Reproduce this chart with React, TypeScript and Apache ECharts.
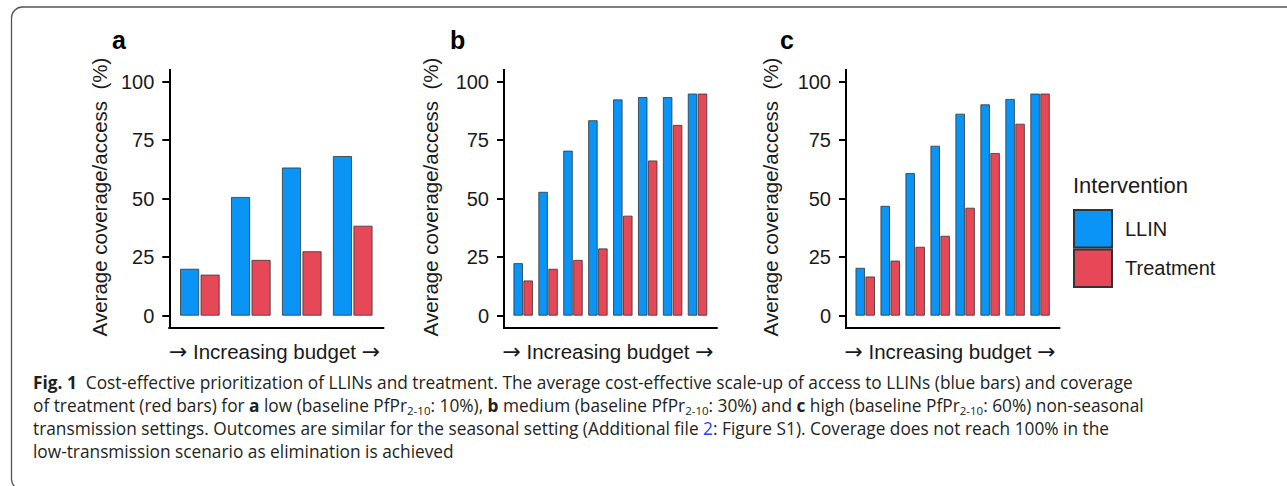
import React, { useEffect, useRef } from "react";
import * as echarts from "echarts";

const seriesNames = ["LLIN", "Treatment"];
const panelLabels = ["a", "b", "c"];
const llinA = [20, 50.7, 63.3, 68.2];
const treatA = [17.5, 23.8, 27.5, 38.4];
const llinB = [22.4, 52.9, 70.5, 83.5, 92.4, 93.4, 93.4, 94.9];
const treatB = [15, 20, 23.8, 28.7, 42.7, 66.3, 81.5, 94.9];
const llinC = [20.4, 46.9, 60.9, 72.6, 86.3, 90.3, 92.6, 94.9];
const treatC = [16.7, 23.5, 29.4, 34.1, 46.1, 69.5, 82.0, 94.9];
const yTicks = [0, 25, 50, 75, 100];
const yTitle = "Average coverage/access  (%)";
const xTitle = "{r|\u2192} Increasing budget {r|\u2192}";
const legendTitle = "Intervention";
const captionLines = [
  "{b|Fig. 1}  Cost-effective prioritization of LLINs and treatment. The average cost-effective scale-up of access to LLINs (blue bars) and coverage",
  "of treatment (red bars) for {b|a} low (baseline PfPr{s|2-10}: 10%), {b|b} medium (baseline PfPr{s|2-10}: 30%) and {b|c} high (baseline PfPr{s|2-10}: 60%) non-seasonal",
  "transmission settings. Outcomes are similar for the seasonal setting (Additional file {l|2}: Figure S1). Coverage does not reach 100% in the",
  "low-transmission scenario as elimination is achieved",
];

const COLORS = ["#0A94F6", "#E64858"];
const FONT = "Liberation Sans, Arial, sans-serif";
const CAP_FONT = "Open Sans, sans-serif";
const INK = "#1a1a1a";
const CAP_SIZE = 17.3;

const panels = [
  { llin: llinA, treat: treatA, left: 169.3, width: 214, pad: 0.6, barW: 19, gap: "8%", lab: [112, 40], yt: 99, xt: 274.5 },
  { llin: llinB, treat: treatB, left: 504, width: 212.7, pad: 0.77, barW: 9.4, gap: "6%", lab: [450, 40], yt: 430, xt: 608 },
  { llin: llinC, treat: treatC, left: 846, width: 213.3, pad: 0.77, barW: 9.4, gap: "6%", lab: [780, 40], yt: 770, xt: 950 },
];

export default function App() {
  const ref = useRef<HTMLDivElement>(null);
  useEffect(() => {
    if (!ref.current) return;
    const chart = echarts.init(ref.current, null, { renderer: "svg" });
    const grid: any[] = [];
    const xAxis: any[] = [];
    const yAxis: any[] = [];
    const series: any[] = [];
    const graphic: any[] = [];
    panels.forEach((p, i) => {
      grid.push({ left: p.left, top: 70, width: p.width, height: 257.3 });
      xAxis.push({
        type: "value",
        gridIndex: i,
        min: -p.pad,
        max: p.llin.length - 1 + p.pad,
        axisLine: { show: true, onZero: false, lineStyle: { color: "#000", width: 2, cap: "square" } },
        axisTick: { show: false },
        axisLabel: { show: false },
        splitLine: { show: false },
      });
      yAxis.push({
        type: "value",
        gridIndex: i,
        min: -5,
        max: 105,
        axisLine: { show: true, onZero: false, lineStyle: { color: "#000", width: 2, cap: "square" } },
        axisTick: { show: true, length: 7, lineStyle: { color: "#000", width: 2 }, customValues: yTicks },
        axisLabel: { show: true, margin: 15, fontSize: 20, color: INK, fontFamily: FONT, customValues: yTicks },
        splitLine: { show: false },
      });
      [p.llin, p.treat].forEach((vals, k) => {
        series.push({
          type: "bar",
          name: seriesNames[k],
          xAxisIndex: i,
          yAxisIndex: i,
          barWidth: p.barW,
          barGap: p.gap,
          data: vals.map((v, j) => [j, v]),
          itemStyle: { color: COLORS[k], borderColor: "#333", borderWidth: 0.8 },
        });
      });
      graphic.push({
        type: "text",
        x: p.lab[0],
        y: p.lab[1],
        style: { text: panelLabels[i], font: `bold 25px ${FONT}`, fill: "#000", verticalAlign: "middle" },
      });
      graphic.push({
        type: "text",
        x: p.yt,
        y: 197,
        rotation: Math.PI / 2,
        style: {
          text: yTitle,
          fontFamily: FONT,
          fontSize: 20.5,
          fill: INK,
          align: "center",
          verticalAlign: "middle",
        },
      });
      graphic.push({
        type: "text",
        x: p.xt,
        y: 351,
        style: {
          text: xTitle,
          fontFamily: FONT,
          fontSize: 20.5,
          fill: INK,
          align: "center",
          verticalAlign: "middle",
          rich: {
            r: { fontFamily: "DejaVu Sans", fontSize: 22, fill: INK },
          },
        },
      });
    });

    graphic.push({
      type: "text",
      x: 1073,
      y: 185.5,
      style: { text: legendTitle, font: `22px ${FONT}`, fill: INK, verticalAlign: "middle" },
    });

    graphic.push({
      type: "rect",
      shape: { x: 11.5, y: 7, width: 1300, height: 483, r: 11 },
      style: { fill: "none", stroke: "#555", lineWidth: 1.3 },
    });

    const capYs = [382, 405, 428, 451];
    captionLines.forEach((line, i) => {
      graphic.push({
        type: "text",
        x: 33,
        y: capYs[i],
        style: {
          text: line,
          fontFamily: CAP_FONT,
          fontSize: CAP_SIZE,
          lineHeight: 22,
          fill: "#231f20",
          verticalAlign: "middle",
          rich: {
            b: { fontFamily: CAP_FONT, fontSize: CAP_SIZE, fontWeight: "bold", lineHeight: 22, fill: "#231f20" },
            s: { fontFamily: CAP_FONT, fontSize: 11.5, fill: "#231f20", verticalAlign: "bottom" },
            l: { fontFamily: CAP_FONT, fontSize: CAP_SIZE, lineHeight: 22, fill: "#2b3ff0" },
          },
        },
      });
    });

    chart.setOption({
      animation: false,
      backgroundColor: "#fff",
      grid,
      xAxis,
      yAxis,
      series,
      legend: {
        data: seriesNames,
        orient: "vertical",
        left: 1073,
        top: 209,
        itemWidth: 38,
        itemHeight: 37.5,
        itemGap: 0,
        icon: "rect",
        padding: 0,
        textStyle: { fontSize: 20, color: INK, fontFamily: FONT, padding: [0, 0, 0, 8] },
      },
      graphic,
    });
    return () => chart.dispose();
  }, []);
  return (
    <div
      ref={ref}
      style={{ position: "fixed", left: 0, top: 0, width: 1287, height: 486, background: "#fff" }}
    />
  );
}
